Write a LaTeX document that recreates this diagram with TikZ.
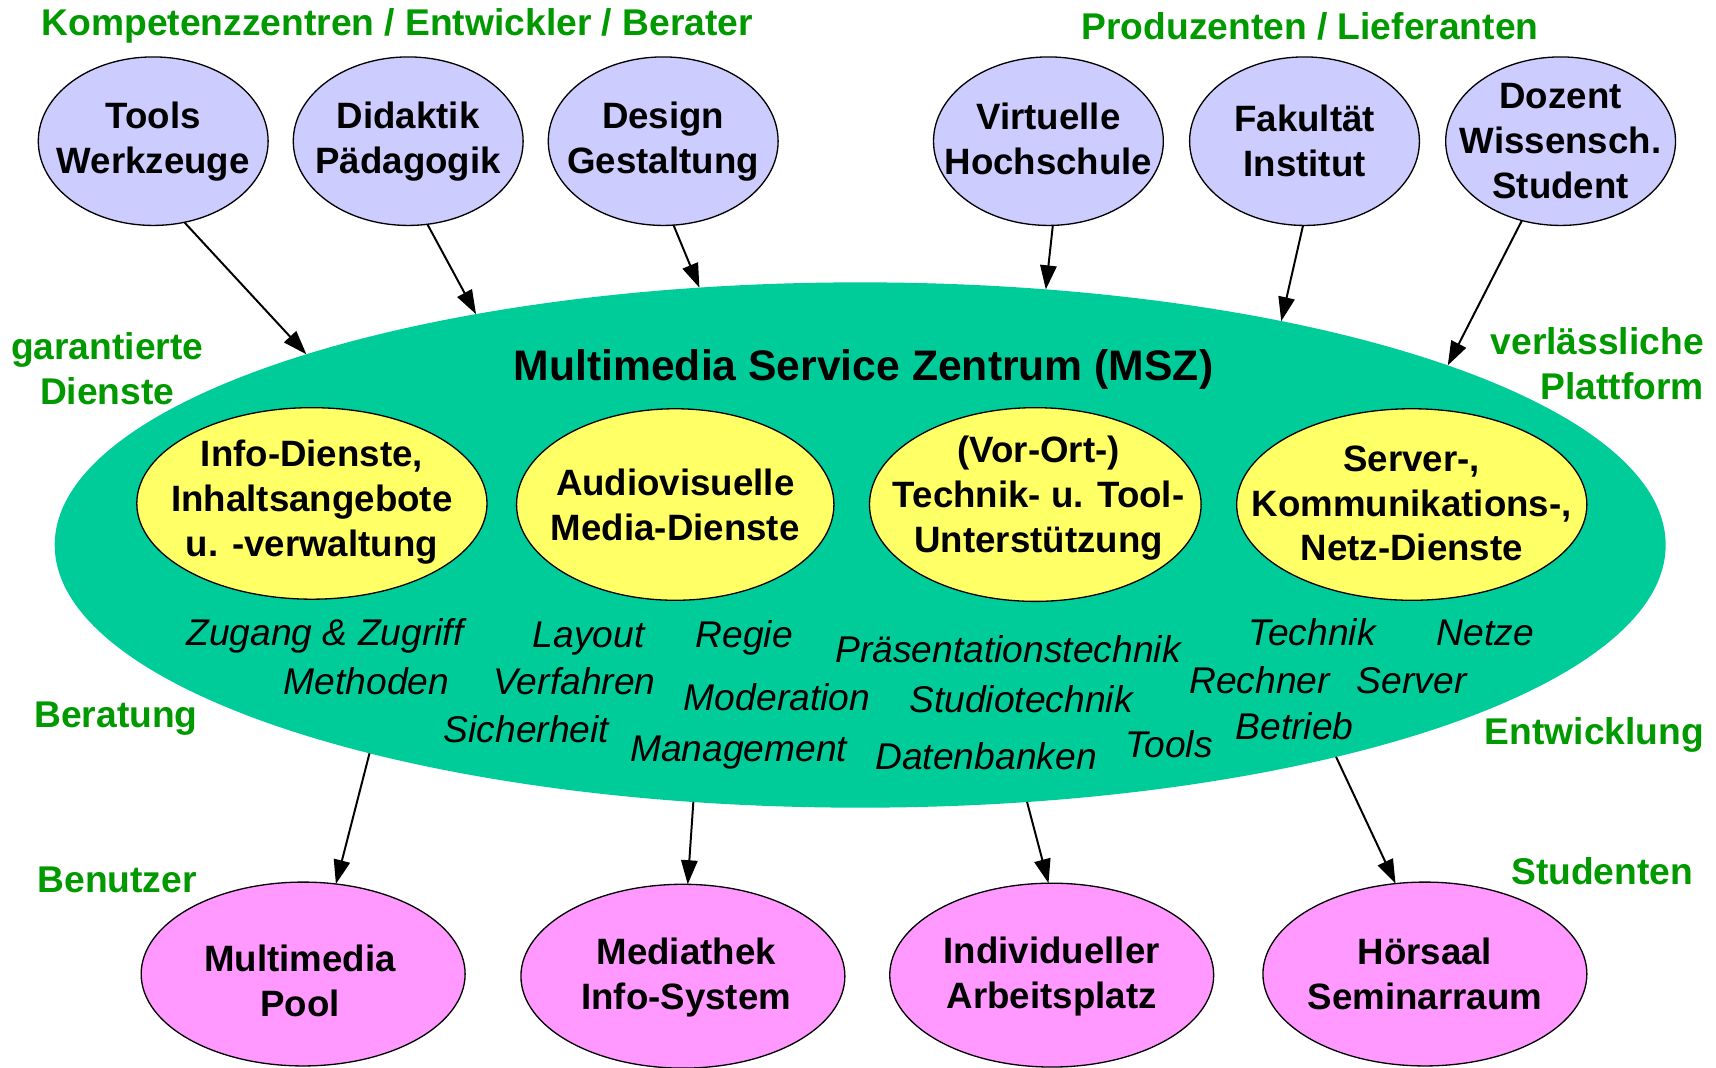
\documentclass[tikz,border=0pt]{standalone}
\usepackage{fontspec}
\setmainfont{Liberation Sans}
\usetikzlibrary{shapes.geometric,arrows.meta}
\definecolor{lblue}{HTML}{CCCCFF}
\definecolor{mszgreen}{HTML}{00CC99}
\definecolor{lyellow}{HTML}{FFFF66}
\definecolor{lpink}{HTML}{FF99FF}
\definecolor{dgreen}{HTML}{009900}
\tikzset{
  blob/.style={ellipse, draw=black, line width=1.2pt, inner sep=0pt, outer sep=0pt},
  topb/.style={blob, fill=lblue, minimum width=210pt, minimum height=154pt},
  yel/.style={blob, fill=lyellow, minimum height=175pt},
  pnk/.style={blob, fill=lpink, minimum width=296pt, minimum height=168pt},
  lbl/.style={font=\fontsize{33.5}{41}\selectfont\bfseries, align=center, text=black},
  grn/.style={font=\fontsize{34}{41}\selectfont\bfseries, text=dgreen, align=center, inner sep=0pt},
  itl/.style={font=\fontsize{34}{40}\selectfont\itshape, inner sep=0pt, text height=24pt, text depth=0pt},
  arr/.style={line width=1.8pt, -{Triangle[length=22pt,width=15pt]}},
}
\begin{document}
\begin{tikzpicture}[x=1pt,y=-1pt]
\useasboundingbox[fill=white] (0,0) rectangle (1568,975);

% green headings
\node[grn] (hk) at (363,24) {Kompetenzzentren / Entwickler / Berater};
\node[grn] (hp) at (1197,24) {Produzenten / Lieferanten};
\node[grn] (hg) at (98,337) {garantierte\\Dienste};
\node[grn, align=right, anchor=east] (hv) at (1557,332) {verlässliche\\Plattform};
\node[grn] (hb) at (106,657) {Beratung};
\node[grn] (he) at (1457,672) {Entwicklung};
\node[grn] (hn) at (107,804) {Benutzer};
\node[grn] (hs) at (1464,796) {Studenten};

% big ellipse
\node[ellipse, fill=mszgreen, inner sep=0pt, outer sep=0pt, minimum width=1472pt, minimum height=480pt] (msz) at (786,498) {};
\node[font=\fontsize{39}{46}\selectfont\bfseries] (title) at (789,338) {Multimedia Service Zentrum (MSZ)};

% top ellipses
\node[topb, label={[lbl]center:Tools\\Werkzeuge}] (t1) at (140,129) {};
\node[topb, label={[lbl]center:Didaktik\\Pädagogik}] (t2) at (373,129) {};
\node[topb, label={[lbl]center:Design\\Gestaltung}] (t3) at (606,129) {};
\node[topb, label={[lbl, yshift=2pt]center:Virtuelle\\Hochschule}] (t4) at (958,129) {};
\node[topb, label={[lbl]center:Fakultät\\Institut}] (t5) at (1192,129) {};
\node[topb, label={[lbl]center:Dozent\\Wissensch.\\Student}] (t6) at (1426,129) {};

% yellow ellipses
\node[yel, minimum width=320pt, label={[lbl, yshift=1pt]center:Info-Dienste,\\Inhaltsangebote\\u. -verwaltung}] (y1) at (285,460) {};
\node[yel, minimum width=290pt, label={[lbl]center:Audiovisuelle\\Media-Dienste}] (y2) at (617,461) {};
\node[yel, minimum width=303pt, minimum height=177pt, label={[lbl, yshift=6pt, xshift=3pt]center:(Vor-Ort-)\\Technik- u. Tool-\\Unterstützung}] (y3) at (946,461) {};
\node[yel, minimum width=320pt, label={[lbl, yshift=1pt]center:Server-,\\Kommunikations-,\\Netz-Dienste}] (y4) at (1290,461) {};

% italic labels
\node[itl] (i1) at (297,578) {Zugang \& Zugriff};
\node[itl] (i2) at (335,623) {Methoden};
\node[itl] (i3) at (481,666) {Sicherheit};
\node[itl] (i4) at (538,580) {Layout};
\node[itl] (i5) at (525,623) {Verfahren};
\node[itl] (i6) at (680,580) {Regie};
\node[itl] (i7) at (710,637) {Moderation};
\node[itl] (i8) at (675,684) {Management};
\node[itl] (i9) at (921,593) {Präsentationstechnik};
\node[itl] (i10) at (933,639) {Studiotechnik};
\node[itl] (i11) at (901,691) {Datenbanken};
\node[itl] (i12) at (1068,680) {Tools};
\node[itl] (i13) at (1199,578) {Technik};
\node[itl] (i14) at (1357,578) {Netze};
\node[itl] (i15) at (1151,622) {Rechner};
\node[itl] (i16) at (1290,622) {Server};
\node[itl] (i17) at (1183,664) {Betrieb};

% bottom ellipses
\node[pnk, label={[lbl, yshift=-6pt, xshift=-3pt]center:Multimedia\\Pool}] (b1) at (277,890) {};
\node[pnk, label={[lbl, yshift=-1pt, xshift=3pt]center:Mediathek\\Info-System}] (b2) at (624,892) {};
\node[pnk, label={[lbl, yshift=-1pt]center:Individueller\\Arbeitsplatz}] (b3) at (961,891) {};
\node[pnk, label={[lbl]center:Hörsaal\\Seminarraum}] (b4) at (1302,890) {};

% arrows top
\draw[arr] (t1.-69.3) -- (msz.161.6);
\draw[arr] (t2.-77.4) -- (msz.149.1);
\draw[arr] (t3.-83.3) -- (msz.122.9);
\draw[arr] (t4.-87.8) -- (msz.54.1);
\draw[arr] (t5.-91.5) -- (msz.28.7);
\draw[arr] (t6.-116.9) -- (msz.17.0);
% arrows bottom
\draw[arr] (msz.203.3) -- (b1.70.6);
\draw[arr] (msz.237.2) -- (b2.87.3);
\draw[arr] (msz.303.7) -- (b3.92);
\draw[arr] (msz.336.3) -- (b4.108.8);
\end{tikzpicture}
\end{document}
